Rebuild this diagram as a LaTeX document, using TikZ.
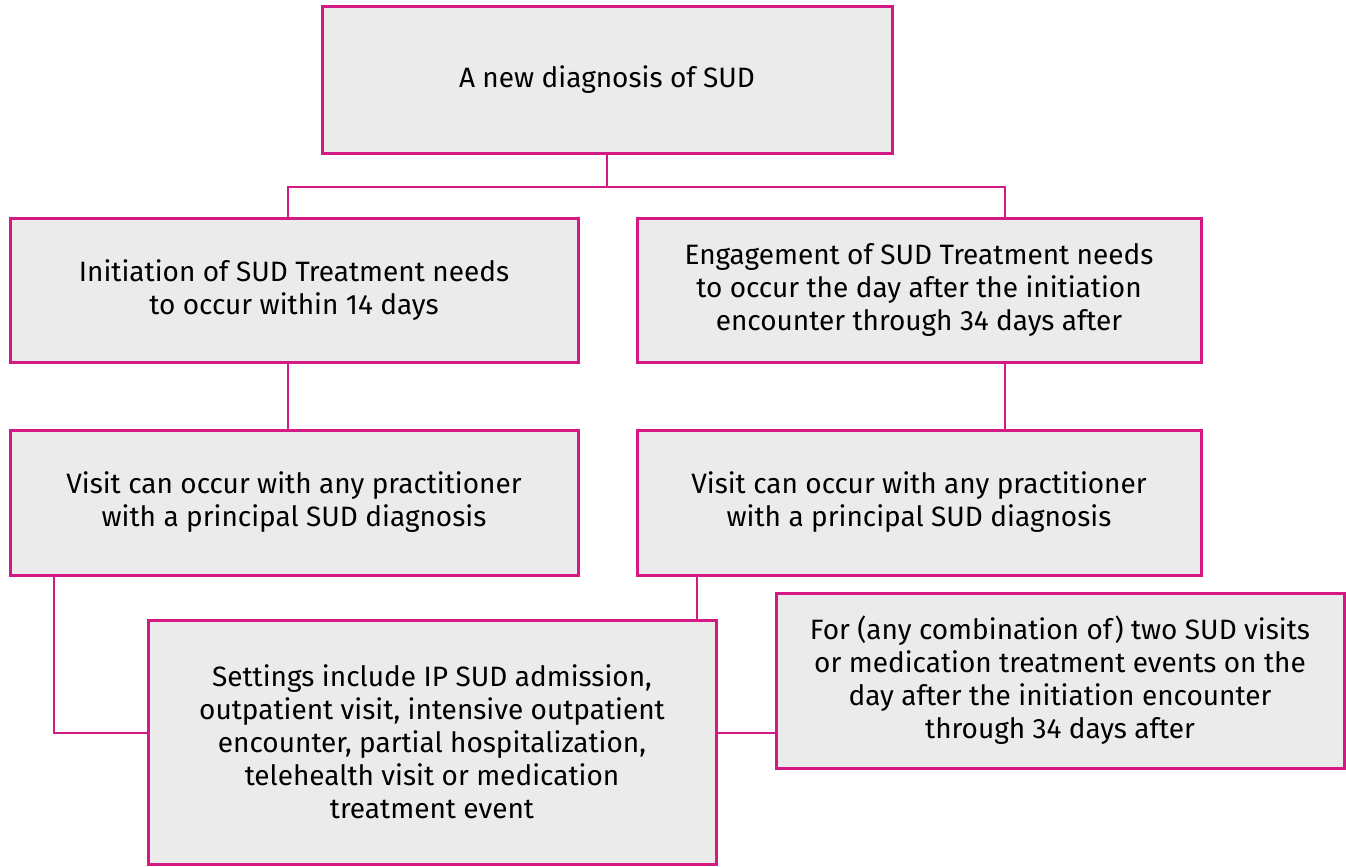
\documentclass[tikz,border=0pt]{standalone}
\usepackage{fontspec}
\setmainfont{Fira Sans}
\usetikzlibrary{positioning, calc}
\definecolor{ColorLine}{HTML}{D31A84}
\definecolor{ColorFill}{HTML}{EBEBEB}

\begin{document}
\begin{tikzpicture}[x=0.5pt, y=-0.5pt,
box/.style={
	rectangle,
	draw = ColorLine,
	fill = ColorFill,
	line width=1.5pt,
	align=center,
	inner sep=0mm,
	font=\fontsize{14}{16.5}\selectfont,
	text = black},
link/.style={
	draw,
	line width=1pt,
	color = ColorLine},
thin link/.style={
	draw,
	line width=0.6pt,
	color = ColorLine}]

\useasboundingbox (0,0) rectangle (1346,867);

%Boxes

\node[box, minimum width=285pt, minimum height=73.5pt] (diag) at (607,79.5) {A new diagnosis of SUD};

\node[box, minimum width=284pt, minimum height=72pt] (init) at (294,290) {Initiation of SUD Treatment needs\\ to occur within 14 days};
\node[box, minimum width=282pt, minimum height=72pt] (engage) at (919,290) {Engagement of SUD Treatment needs\\ to occur the day after the initiation\\ encounter through 34 days after};

\node[box, minimum width=284pt, minimum height=72.5pt] (visitL) at (294,502.5) {Visit can occur with any practitioner\\ with a principal SUD diagnosis};
\node[box, minimum width=282pt, minimum height=72.5pt] (visitR) at (919,502.5) {Visit can occur with any practitioner\\ with a principal SUD diagnosis};

\node[box, minimum width=284pt, minimum height=122pt] (settings) at (432,742) {Settings include IP SUD admission,\\ outpatient visit, intensive outpatient\\ encounter, partial hospitalization,\\ telehealth visit or medication\\ treatment event};
\node[box, minimum width=284pt, minimum height=87.5pt] (combo) at (1060,680.5) {For (any combination of) two SUD visits\\ or medication treatment events on the\\ day after the initiation encounter\\ through 34 days after};

%Connectors

\coordinate (bar) at (607,187);
\coordinate (dropL) at (288,187);
\coordinate (dropR) at (1005,187);
\coordinate (legL) at (54,733);
\coordinate (legR) at (697,600);

\path[link] (diag.south -| bar) to (bar);
\path[link] (init.north -| dropL) |- (bar) -| (engage.north -| dropR);
\path[link] (init.south -| dropL) to (visitL.north -| dropL);
\path[link] (engage.south -| dropR) to (visitR.north -| dropR);

\path[link] (visitL.south -| legL) |- (settings.west |- legL);
\path[thin link] (visitR.south -| legR) to (settings.north -| legR);
\path[link] (settings.east |- legL) to (combo.west |- legL);

\end{tikzpicture}
\end{document}
